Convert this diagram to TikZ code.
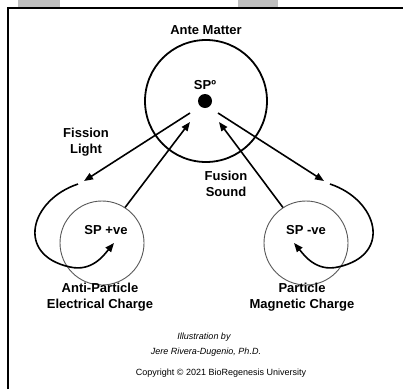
\documentclass[tikz,border=0pt]{standalone}
\usepackage{fontspec}
\setmainfont{Liberation Sans}
\usetikzlibrary{arrows.meta}

\begin{document}
\begin{tikzpicture}[x=1pt,y=-1pt,
    every node/.style={font=\fontsize{13}{16}\selectfont\bfseries,align=center,inner sep=0pt},
    ring/.style={circle,draw=black!65,line width=0.9pt,minimum size=84pt},
    flow/.style={line width=1.6pt,-{Triangle[length=9pt,width=7pt]}},
    credit/.style={font=\fontsize{9}{11}\selectfont}]
          \useasboundingbox (0,0) rectangle (403,389);
          \fill[white] (0,0) rectangle (403,389);
          \fill[black!25] (18,0) rectangle (60,7);
          \fill[black!25] (238,0) rectangle (278,7);
          \draw[line width=2pt] (7.5,389) -- (7.5,8) -- (403,8);

          \node[circle,draw,line width=1.8pt,minimum size=122pt] (ante) at (206,101) {};
          \node[circle,fill=black,minimum size=14pt] (sp0) at (205,101) {};
          \node[ring] (pos) at (102,243) {};
          \node[ring] (neg) at (306,243) {};

          \node (antelbl) at (206,30) {Ante Matter};
          \node (sp0lbl) at (205,85) {SPº};
          \node (fission) at (86,142) {Fission\\Light};
          \node (fusion) at (226,184) {Fusion\\Sound};
          \node (postxt) at (106,230) {SP +ve};
          \node (negtxt) at (306,230) {SP -ve};
          \node (anti) at (100,297) {Anti-Particle\\Electrical Charge};
          \node (part) at (302,297) {Particle\\Magnetic Charge};
          \node[credit] (illus) at (204,337) {\itshape Illustration by};
          \node[credit] (author) at (206,352) {\itshape Jere Rivera-Dugenio, Ph.D.};
          \node[credit] (copy) at (221,373) {Copyright © 2021 BioRegenesis University};

          \coordinate (lout) at (190,113);
          \coordinate (lend) at (84,181);
          \coordinate (rout) at (218,113);
          \coordinate (rend) at (324,181);
          \coordinate (lin) at (190,122);
          \coordinate (rin) at (219,122);
          \coordinate (lloop) at (78,184);
          \coordinate (ltip) at (114,243);
          \coordinate (rloop) at (330,184);
          \coordinate (rtip) at (294,243);

          \draw [flow] (lout) -- (lend);
          \draw [flow] (rout) -- (rend);
          \draw [flow] (pos.57) -- (lin);
          \draw [flow] (neg.123) -- (rin);
          \draw [flow] (lloop) .. controls (30,200) and (15,255) .. (70,267)
                .. controls (92,272) and (104,255) .. (ltip);
          \draw [flow] (rloop) .. controls (378,200) and (393,255) .. (338,267)
                .. controls (316,272) and (304,255) .. (rtip);
        \end{tikzpicture}
\end{document}
